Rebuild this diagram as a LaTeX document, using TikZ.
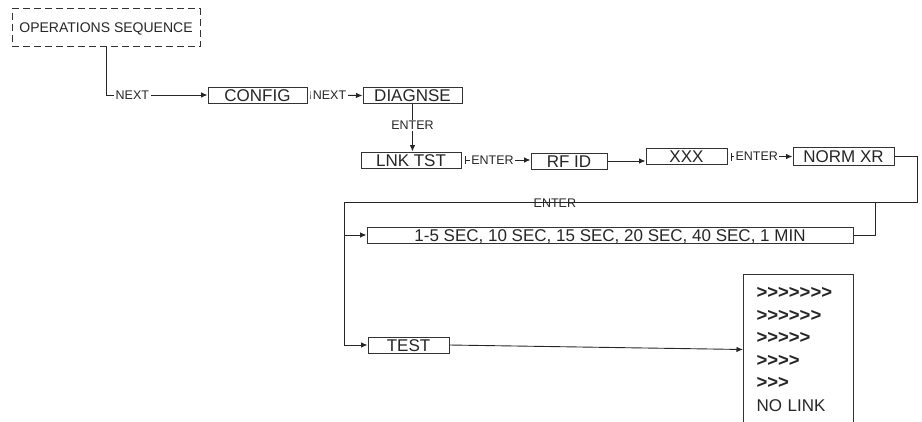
\documentclass[tikz,border=0pt]{standalone}
\usepackage{fontspec}
\setmainfont{Liberation Sans}
\usetikzlibrary{calc,arrows.meta}
\newcommand\mgt{\mbox{>}}
\tikzset{
 box/.style={draw=black!80,line width=1pt,fill=white,inner sep=0pt,minimum height=16pt,
   text height=12pt,text depth=0pt,text=black!85,font=\fontsize{17}{20}\selectfont},
 lbl/.style={fill=white,inner sep=1.5pt,text=black!85,font=\fontsize{12.5}{14}\selectfont},
 conn/.style={draw=black!85,line width=0.9pt,-{Latex[length=6.5pt,width=5.5pt]}},
 tickconn/.style={conn,{Bar[width=8pt]}-{Latex[length=6.5pt,width=5.5pt]},shorten <=3pt},
 wire/.style={draw=black!85,line width=0.9pt},
}
\begin{document}
\begin{tikzpicture}[x=1pt,y=-1pt]
\useasboundingbox (0,0) rectangle (922,421);
% the menu boxes
\node[box,dash pattern=on 7pt off 4pt,minimum width=188,minimum height=38,text height=10pt,
  font=\fontsize{14}{16}\selectfont] (ops) at (106,27.5) {OPERATIONS SEQUENCE};
\node[box,minimum width=99] (config) at (257.5,95) {CONFIG};
\node[box,minimum width=99] (diag) at (412.5,95.5) {DIAGNSE};
\node[box,minimum width=100] (lnk) at (411,160) {LNK TST};
\node[box,minimum width=76] (rfid) at (569,161) {RF ID};
\node[box,minimum width=81] (xxx) at (686.5,156.5) {XXX};
\node[box,minimum width=101,minimum height=18] (norm) at (843.5,156) {NORM XR};
\node[box,minimum width=486] (time) at (610,235) {1-5 SEC, 10 SEC, 15 SEC, 20 SEC, 40 SEC, 1 MIN};
\node[box,minimum width=81] (test) at (408.5,345) {TEST};
\node[box,anchor=north west,minimum width=110,minimum height=150,text height=,text depth=,
  align=left,text width=84,inner xsep=13,font=\fontsize{17}{22.5}\selectfont] (list) at (743,274)
  {\textbf{\fontsize{18.5}{22.5}\selectfont\mgt\mgt\mgt\mgt\mgt\mgt\mgt}\\
   \textbf{\fontsize{18.5}{22.5}\selectfont\mgt\mgt\mgt\mgt\mgt\mgt}\\
   \textbf{\fontsize{18.5}{22.5}\selectfont\mgt\mgt\mgt\mgt\mgt}\\
   \textbf{\fontsize{18.5}{22.5}\selectfont\mgt\mgt\mgt\mgt}\\
   \textbf{\fontsize{18.5}{22.5}\selectfont\mgt\mgt\mgt}\\ NO LINK};
% loop corners
\coordinate (rt) at (917,202);
\coordinate (lf) at (344,202);
\coordinate (tj) at (875,202);
% connectors
\draw[conn] (ops.south) |- node[lbl,pos=0.63]{NEXT} (config.west);
\draw[tickconn] (config.east) -- node[lbl,pos=0.4]{NEXT} (diag.west);
\draw[conn] (diag.south) -- node[lbl,pos=0.45]{ENTER} (diag.south |- lnk.north);
\draw[tickconn] (lnk.east) -- node[lbl,pos=0.45]{ENTER} (lnk.east -| rfid.west);
\draw[conn] (rfid.east) -- (rfid.east -| xxx.west);
\draw[tickconn] (xxx.east) -- node[lbl,pos=0.45]{ENTER} (xxx.east -| norm.west);
\draw[conn] (norm.east) -| (rt) -- node[pos=0.632,yshift=-1.5pt,inner sep=0pt,text=black!85,
  font=\fontsize{12.5}{14}\selectfont]{ENTER} (lf) |- (test.west);
\draw[conn] (lf |- time.west) -- (time.west);
\draw[wire] (time.east) -| (tj);
\draw[conn] (test.east) -- (list.west);
\end{tikzpicture}
\end{document}
